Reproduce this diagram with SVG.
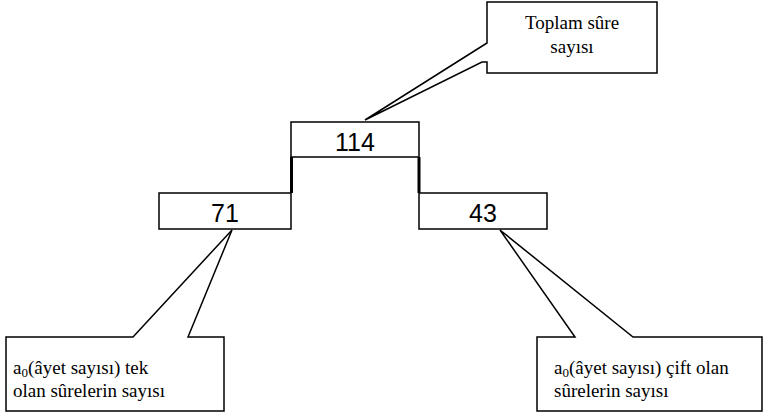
<svg xmlns="http://www.w3.org/2000/svg" width="764" height="417" viewBox="0 0 764 417">
<style>
.box{fill:#fff;stroke:#000;stroke-width:1.5}
.num{font-family:"Liberation Sans",Arial,sans-serif;font-size:25px;fill:#000;text-anchor:middle}
.lbl{font-family:"Liberation Serif","Times New Roman",serif;font-size:19px;fill:#000}
.sub{font-size:13px}
.conn{stroke:#000;stroke-width:3;fill:none}
</style>
<rect width="764" height="417" fill="#fff"/>
<g id="connectors">
<line class="conn" x1="291.5" y1="157" x2="291.5" y2="193"/>
<line class="conn" x1="419" y1="157" x2="419" y2="193"/>
</g>
<g id="n114">
<rect class="box" x="291" y="122" width="128" height="35"/>
<text class="num" x="355" y="151">114</text>
</g>
<g id="n71">
<rect class="box" x="159" y="193" width="132" height="36"/>
<text class="num" x="225" y="222">71</text>
</g>
<g id="n43">
<rect class="box" x="419" y="193" width="128" height="36"/>
<text class="num" x="483" y="222">43</text>
</g>
<g id="callout-top">
<polygon class="box" points="487,2 657,2 657,73 487,73 487,62 482,62 365,120 487,43"/>
<text class="lbl" x="572" y="29" text-anchor="middle">Toplam sûre</text>
<text class="lbl" x="572" y="53" text-anchor="middle">sayısı</text>
</g>
<g id="callout-left">
<polygon class="box" points="6,337 133,337 232,230 188,337 224,337 224,411 6,411"/>
<text class="lbl" x="13" y="374">a<tspan class="sub" dy="3">0</tspan><tspan dy="-3">(âyet sayısı) tek</tspan></text>
<text class="lbl" x="13" y="397">olan sûrelerin sayısı</text>
</g>
<g id="callout-right">
<polygon class="box" points="537,337 575,337 500,230 633,337 762,337 762,411 537,411"/>
<text class="lbl" x="554" y="374">a<tspan class="sub" dy="3">0</tspan><tspan dy="-3">(âyet sayısı) çift olan</tspan></text>
<text class="lbl" x="554" y="397">sûrelerin sayısı</text>
</g>
</svg>
